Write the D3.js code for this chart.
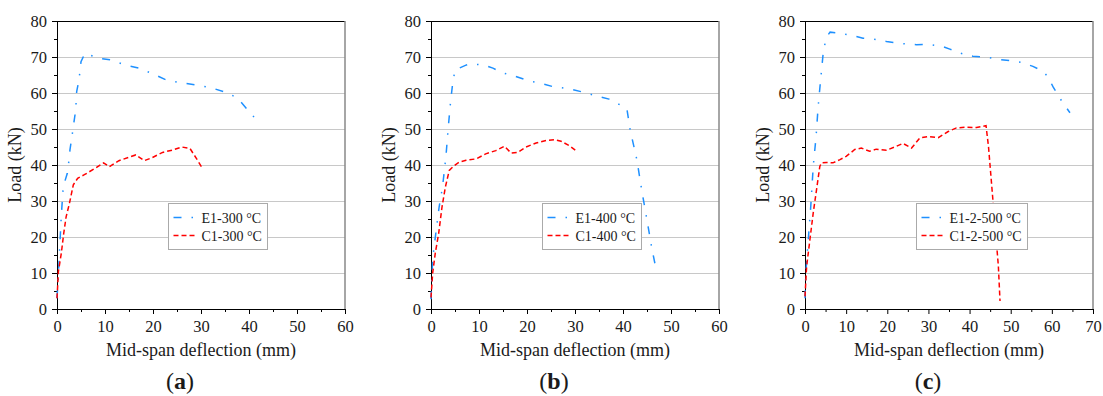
<!DOCTYPE html>
<html>
<head>
<meta charset="utf-8">
<title>Load-deflection curves</title>
<script src="https://d3js.org/d3.v7.min.js"></script>
<style>
  body { margin: 0; background: #fff; }
  svg text { font-family: "Liberation Serif", "Times New Roman", serif; }
</style>
</head>
<body>
<svg width="1103" height="396"></svg>
<script>
// data: [mid-span deflection (mm), load (kN)]
const e1_300 = [[0,3],[0.3,10],[0.6,18],[0.9,26],[1.3,34],[2.15,37.7],[2.5,41.4],[2.7,44.2],[3.06,47.4],[3.5,51.6],[3.9,55.3],[4.1,60.4],[4.58,63.6],[5.0,68.7],[5.8,71],[9,69.6],[11.2,69.2],[14.2,67.8],[17.1,66.9],[20,65.3],[22.8,63.6],[26,62.8],[29.1,62.2],[32,61.5],[35.2,60.2],[37.6,58.6],[39.6,55.5],[42.3,51.4]];
const c1_300 = [[0,3],[0.3,10.5],[0.9,15.5],[1.4,21],[1.9,25.6],[2.6,29.4],[3.4,34.5],[4.3,36.3],[5.7,37.3],[8.1,39.2],[9.7,40.6],[10.9,39.5],[12.9,41.2],[16.4,42.8],[18.2,41.2],[19.9,42.1],[22,43.5],[24.2,44.2],[26,45],[27.7,44.6],[29.1,41.7],[30.2,39.3]];

const e1_400 = [[0,2.7],[0.35,14],[1.0,21],[1.7,28.4],[2.4,33.9],[3.1,42.2],[3.6,50.5],[4.1,57.9],[4.5,62.5],[5,66.4],[7.4,67.8],[8.1,68.1],[10.9,67.8],[12.9,66.9],[14.9,65.6],[17,64.9],[20.5,63.3],[22.9,62.7],[25.3,61.8],[27,61.5],[29.1,61.1],[31.5,60.3],[35,59],[37.1,58.3],[40.8,55.7],[41.5,49.7],[42.9,41.4],[43.9,33],[45,24.7],[46,16.9],[46.9,11]];
const c1_400 = [[0,3.2],[0.35,10],[0.9,15.6],[1.6,21],[2.3,28.4],[3.0,33.9],[3.8,38.5],[4.9,39.9],[5.9,40.8],[7.3,41.3],[9.4,41.7],[11.4,43.1],[13.5,44],[15.3,45.2],[16.7,43.3],[18.1,43.5],[19.8,45],[21.9,46.1],[24,46.8],[25.7,47],[27.1,46.6],[28.8,45.4],[30.2,44]];

const e1_500 = [[0,3],[0.2,10],[0.8,19.3],[1.4,28.5],[2.0,39.6],[2.7,48],[3.2,56.3],[3.8,63.7],[4.5,72],[5.3,75.7],[6.1,76.9],[8.5,76.6],[11.7,75.9],[14.1,75.2],[16.5,75],[19.8,74.3],[23.8,73.7],[27.1,73.4],[30.3,73.5],[33.5,72.9],[35.2,72.2],[37.6,71.1],[40.8,70.2],[44.1,70],[46.5,69.4],[49.7,69],[52.6,68.5],[55.4,67.4],[57.9,66],[59.1,64.4],[60.3,61.7],[61.9,58.6],[64.4,54.5]];
const c1_500 = [[0,3.5],[0.4,11.9],[1.2,19.3],[2.0,26.7],[2.8,33.1],[3.6,39.6],[4.0,40.6],[5.2,40.7],[6.8,40.6],[8.5,41.5],[10,42.4],[12.1,44.3],[13.7,44.7],[15.7,43.8],[17.3,44.4],[19.8,44.1],[22.2,45.2],[23.8,46],[25.9,44.7],[27.9,47.5],[29.9,47.9],[32.4,47.6],[34.8,49.3],[36.8,50.3],[39.3,50.5],[41.7,50.4],[44,50.9],[44.6,45.1],[45.8,28.5],[47,11.9],[47.4,2.2]];

const xMaxes = [60, 60, 70];
const eNames = ["E1-300 \u00B0C", "E1-400 \u00B0C", "E1-2-500 \u00B0C"];
const cNames = ["C1-300 \u00B0C", "C1-400 \u00B0C", "C1-2-500 \u00B0C"];
const tags = ["a", "b", "c"];
const yTicks = [0, 10, 20, 30, 40, 50, 60, 70, 80];

const svg = d3.select("svg");
const lefts = [57, 431, 805];
const plotTop = 21, w = 288, h = 288;
const blue = "#1e90ff", red = "#ff0000";
const eDash = "8,10,1.5,10", cDash = "5,3";
const ink = "#1a1a1a";

const eSeries = [e1_300, e1_400, e1_500];
const cSeries = [c1_300, c1_400, c1_500];

lefts.forEach((left, i) => {
    const g = svg.append("g").attr("transform", `translate(${left},${plotTop})`);
    const x = d3.scaleLinear().domain([0, xMaxes[i]]).range([0, w]);
    const y = d3.scaleLinear().domain([0, 80]).range([h, 0]);

    // horizontal grid
    g.append("g").selectAll("line")
        .data(yTicks.filter(d => d > 0 && d < 80))
        .join("line")
        .attr("x1", 0).attr("x2", w)
        .attr("y1", d => y(d) + 0.5).attr("y2", d => y(d) + 0.5)
        .attr("stroke", "#c8c8c8").attr("stroke-width", 1);

    // frame top / right
    g.append("line").attr("x1", 0).attr("x2", w).attr("y1", 0.5).attr("y2", 0.5)
        .attr("stroke", "#000");
    g.append("line").attr("x1", w).attr("x2", w).attr("y1", 0).attr("y2", h)
        .attr("stroke", "#888").attr("stroke-width", 1.5);

    // minor ticks
    g.append("g").attr("transform", `translate(0,${h})`)
        .call(d3.axisBottom(x).tickValues(d3.range(5, xMaxes[i], 10)).tickSize(3).tickFormat(""))
        .call(a => a.select(".domain").remove());
    g.append("g")
        .call(d3.axisLeft(y).tickValues(d3.range(5, 80, 10)).tickSize(3).tickFormat(""))
        .call(a => a.select(".domain").remove());

    // major axes
    const xa = g.append("g").attr("transform", `translate(0,${h})`)
        .call(d3.axisBottom(x).tickValues(d3.range(0, xMaxes[i] + 1, 10)).tickSize(5).tickSizeOuter(0).tickPadding(6));
    const ya = g.append("g")
        .call(d3.axisLeft(y).tickValues(yTicks).tickSize(5).tickSizeOuter(0).tickPadding(5));
    [xa, ya].forEach(a => a.attr("font-family", null).attr("font-size", null)
        .selectAll("text")
        .style("font-family", "'Liberation Serif', serif")
        .attr("font-size", 16.5).attr("fill", ink));

    // curves
    const line = d3.line().x(d => x(d[0])).y(d => y(d[1]));
    g.append("path").datum(eSeries[i])
        .attr("fill", "none").attr("stroke", blue).attr("stroke-width", 1.5)
        .attr("stroke-dasharray", eDash).attr("d", line);
    g.append("path").datum(cSeries[i])
        .attr("fill", "none").attr("stroke", red).attr("stroke-width", 1.5)
        .attr("stroke-dasharray", cDash).attr("d", line);

    // legend
    const lg = g.append("g").attr("transform", `translate(${Math.round(w * 0.385) + 0.5},182.5)`);
    const box = lg.append("rect").attr("x", 0).attr("y", 0).attr("height", 46)
        .attr("fill", "#fff").attr("stroke", "#aaa");
    const rows = [[eNames[i], blue, eDash], [cNames[i], red, cDash]];
    let maxLen = 0;
    rows.forEach((r, k) => {
        const cy = 14 + k * 18;
        lg.append("line").attr("x1", 5).attr("x2", 27).attr("y1", cy).attr("y2", cy)
            .attr("stroke", r[1]).attr("stroke-width", 1.5).attr("stroke-dasharray", r[2]);
        const t = lg.append("text").attr("x", 33).attr("y", cy + 5)
            .attr("font-size", 14).attr("fill", ink).text(r[0]);
        maxLen = Math.max(maxLen, t.node().getComputedTextLength());
    });
    box.attr("width", Math.round(33 + maxLen + 6));

    // axis titles
    g.append("text").attr("x", w / 2).attr("y", 335).attr("text-anchor", "middle")
        .attr("font-size", 18).attr("fill", ink).text("Mid-span deflection (mm)");
    g.append("text").attr("transform", `translate(-36,144) rotate(-90)`)
        .attr("text-anchor", "middle").attr("font-size", 18).attr("fill", ink)
        .text("Load (kN)");

    // panel tag
    const tg = g.append("text").attr("x", w / 2 - 21).attr("y", 368).attr("text-anchor", "middle")
        .attr("font-size", 24).attr("fill", ink);
    tg.append("tspan").text("(");
    tg.append("tspan").attr("font-weight", "bold").text(tags[i]);
    tg.append("tspan").text(")");
});
</script>
</body>
</html>
